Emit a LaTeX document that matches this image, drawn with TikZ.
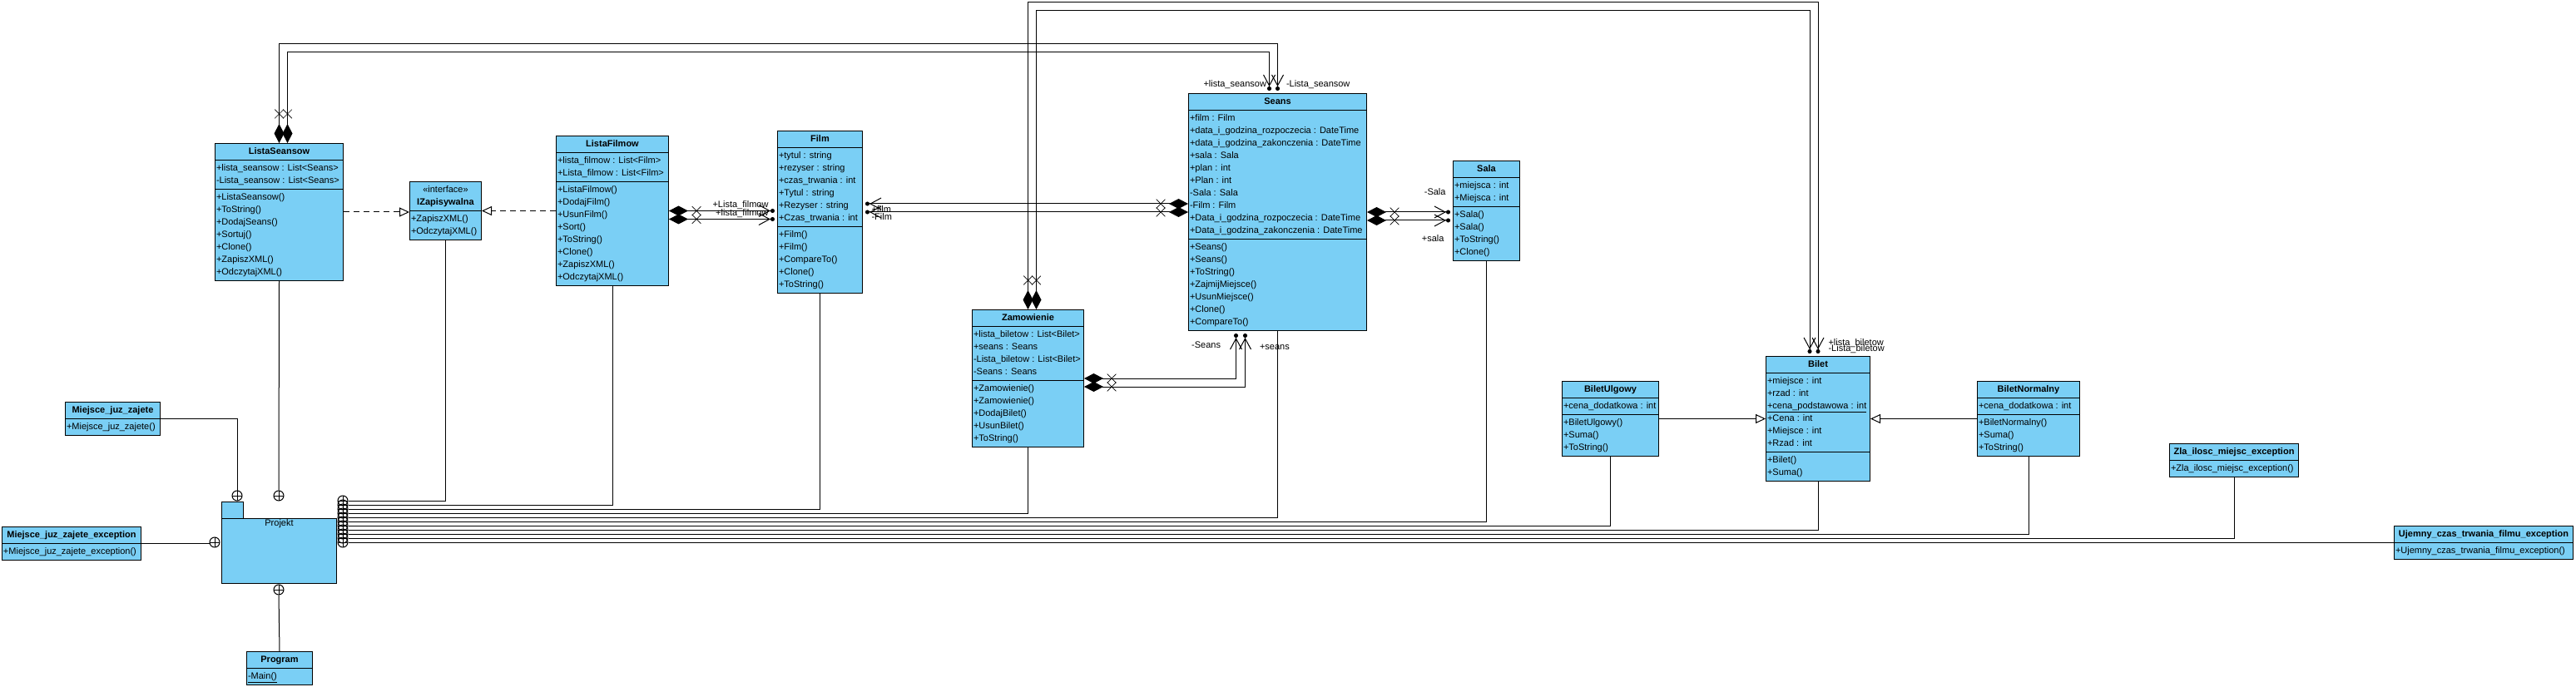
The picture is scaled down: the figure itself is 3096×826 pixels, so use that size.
\documentclass[tikz,border=0pt]{standalone}
\usepackage{fontspec}
\setmainfont{Liberation Sans}
\usetikzlibrary{calc,arrows.meta,shapes.multipart,shapes.misc}
\definecolor{umlblue}{RGB}{122,207,245}
\tikzset{
  umlclass/.style={rectangle split, rectangle split parts=3, draw, fill=umlblue,
    anchor=north west, inner xsep=1.5pt, inner ysep=2pt, align=left,
    rectangle split part align={center,left,left}},
  umlsmall/.style={umlclass, rectangle split parts=2,
    rectangle split part align={center,left}},
  pkg/.style={draw, fill=umlblue, anchor=north west},
  nest/.style={circle, draw, minimum size=12pt, inner sep=0pt,
    path picture={\draw (path picture bounding box.north) -- (path picture bounding box.south)
      (path picture bounding box.west) -- (path picture bounding box.east);}},
  xmark/.style={cross out, draw, minimum size=10pt, inner sep=0pt, line width=0.7pt},
  role/.style={inner sep=0pt},
  comp/.style={arrows={Diamond[length=23pt,width=12pt]-Straight Barb[length=13pt,width=14pt] Circle[length=5pt]}, shorten >=3pt},
  gen/.style={arrows={-Triangle[open,length=12pt,width=11pt]}},
  real/.style={gen, dash pattern=on 7pt off 5pt}
}
\begin{document}
\begin{tikzpicture}[x=1pt, y=-1pt, font=\fontsize{11}{15}\selectfont, line width=1pt]
  \useasboundingbox (0,0) rectangle (3096,826);
  % classes
  \node[umlclass, minimum width=154pt] (ls) at (258,172) {\strut\textbf{ListaSeansow}\nodepart{two}\strut+lista\_seansow : List<Seans>\\-Lista\_seansow : List<Seans>\strut\nodepart{three}\strut+ListaSeansow()\\+ToString()\\+DodajSeans()\\+Sortuj()\\+Clone()\\+ZapiszXML()\\+OdczytajXML()\strut};
  \node[umlsmall, minimum width=86pt] (iz) at (492,218) {\begin{tabular}{@{}c@{}}\textless\textless interface\textgreater\textgreater\\\textbf{IZapisywalna}\end{tabular}\nodepart{two}\strut+ZapiszXML()\\+OdczytajXML()\strut};
  \node[umlclass, minimum width=135pt] (lf) at (668,163) {\strut\textbf{ListaFilmow}\nodepart{two}\strut+lista\_filmow : List<Film>\\+Lista\_filmow : List<Film>\strut\nodepart{three}\strut+ListaFilmow()\\+DodajFilm()\\+UsunFilm()\\+Sort()\\+ToString()\\+Clone()\\+ZapiszXML()\\+OdczytajXML()\strut};
  \node[umlclass, minimum width=102pt] (film) at (934,157) {\strut\textbf{Film}\nodepart{two}\strut+tytul : string\\+rezyser : string\\+czas\_trwania : int\\+Tytul : string\\+Rezyser : string\\+Czas\_trwania : int\strut\nodepart{three}\strut+Film()\\+Film()\\+CompareTo()\\+Clone()\\+ToString()\strut};
  \node[umlclass, minimum width=214pt] (seans) at (1428,112) {\strut\textbf{Seans}\nodepart{two}\strut+film : Film\\+data\_i\_godzina\_rozpoczecia : DateTime\\+data\_i\_godzina\_zakonczenia : DateTime\\+sala : Sala\\+plan : int\\+Plan : int\\-Sala : Sala\\-Film : Film\\+Data\_i\_godzina\_rozpoczecia : DateTime\\+Data\_i\_godzina\_zakonczenia : DateTime\strut\nodepart{three}\strut+Seans()\\+Seans()\\+ToString()\\+ZajmijMiejsce()\\+UsunMiejsce()\\+Clone()\\+CompareTo()\strut};
  \node[umlclass, minimum width=80pt] (sala) at (1746,193) {\strut\textbf{Sala}\nodepart{two}\strut+miejsca : int\\+Miejsca : int\strut\nodepart{three}\strut+Sala()\\+Sala()\\+ToString()\\+Clone()\strut};
  \node[umlclass, minimum width=134pt] (zam) at (1168,372) {\strut\textbf{Zamowienie}\nodepart{two}\strut+lista\_biletow : List<Bilet>\\+seans : Seans\\-Lista\_biletow : List<Bilet>\\-Seans : Seans\strut\nodepart{three}\strut+Zamowienie()\\+Zamowienie()\\+DodajBilet()\\+UsunBilet()\\+ToString()\strut};
  \node[umlclass, minimum width=116pt] (bu) at (1877,458) {\strut\textbf{BiletUlgowy}\nodepart{two}\strut+cena\_dodatkowa : int\strut\nodepart{three}\strut+BiletUlgowy()\\+Suma()\\+ToString()\strut};
  \node[umlclass, minimum width=125pt] (bilet) at (2122,428) {\strut\textbf{Bilet}\nodepart{two}\strut+miejsce : int\\+rzad : int\\\underline{+cena\_podstawowa : int}\\+Cena : int\\+Miejsce : int\\+Rzad : int\strut\nodepart{three}\strut+Bilet()\\+Suma()\strut};
  \node[umlclass, minimum width=123pt] (bn) at (2376,458) {\strut\textbf{BiletNormalny}\nodepart{two}\strut+cena\_dodatkowa : int\strut\nodepart{three}\strut+BiletNormalny()\\+Suma()\\+ToString()\strut};
  \node[umlsmall, minimum width=155pt] (zla) at (2607,533) {\strut\textbf{Zla\_ilosc\_miejsc\_exception}\nodepart{two}\strut+Zla\_ilosc\_miejsc\_exception()};
  \node[umlsmall, minimum width=215pt] (uj) at (2877,632) {\strut\textbf{Ujemny\_czas\_trwania\_filmu\_exception}\nodepart{two}\strut+Ujemny\_czas\_trwania\_filmu\_exception()};
  \node[umlsmall, minimum width=114pt] (mjz) at (78,483) {\strut\textbf{Miejsce\_juz\_zajete}\nodepart{two}\strut+Miejsce\_juz\_zajete()};
  \node[umlsmall, minimum width=167pt] (mjze) at (2,633) {\strut\textbf{Miejsce\_juz\_zajete\_exception}\nodepart{two}\strut+Miejsce\_juz\_zajete\_exception()};
  \node[umlsmall, minimum width=79pt] (prog) at (296,783) {\strut\textbf{Program}\nodepart{two}\strut\underline{-Main()}};
  % package
  \node[pkg, minimum width=138pt, minimum height=78pt] (projekt) at (266,623) {};
  \draw[fill=umlblue] (projekt.north west) rectangle ++(26,-20);
  \node[anchor=north, inner sep=1pt] (projekt-name) at (projekt.north) {Projekt};
  % realizations
  \draw[real] (ls.east) -- (ls.east -| iz.west);
  \draw[real] (lf.west) -- (lf.west -| iz.east);
  % ListaFilmow - Film
  \coordinate (lf-e2) at ($(lf.east)+(0,10)$);
  \draw[comp] (lf.east) -- (lf.east -| film.west);
  \draw[comp] (lf-e2) -- (lf-e2 -| film.west);
  \node[xmark] (lf-x1) at ($(lf.east)+(33,0)$) {};
  \node[xmark] (lf-x2) at ($(lf-e2)+(33,0)$) {};
  \node[role, anchor=east] (r-lf1) at ($(film.west)+(-10,-8)$) {+Lista\_filmow};
  \node[role, anchor=east] (r-lf2) at ($(film.west)+(-10,2)$) {+lista\_filmow};
  % Seans - Film
  \coordinate (se-w2) at ($(seans.west)+(0,-10)$);
  \draw[comp] (seans.west) -- (seans.west -| film.east);
  \draw[comp] (se-w2) -- (se-w2 -| film.east);
  \node[xmark] (se-x1) at ($(seans.west)+(-33,0)$) {};
  \node[xmark] (se-x2) at ($(se-w2)+(-33,0)$) {};
  \node[role, anchor=west] (r-f1) at ($(film.east)+(10,-3)$) {+film};
  \node[role, anchor=west] (r-f2) at ($(film.east)+(10,6)$) {-Film};
  % Seans - Sala
  \coordinate (se-e2) at ($(seans.east)+(0,10)$);
  \draw[comp] (seans.east) -- (seans.east -| sala.west);
  \draw[comp] (se-e2) -- (se-e2 -| sala.west);
  \node[xmark] (se-x3) at ($(seans.east)+(33,0)$) {};
  \node[xmark] (se-x4) at ($(se-e2)+(33,0)$) {};
  \node[role, anchor=east] (r-s1) at ($(sala.west)+(-8,-23)$) {-Sala};
  \node[role, anchor=east] (r-s2) at ($(sala.west)+(-10,33)$) {+sala};
  % ListaSeansow - Seans
  \coordinate (ls-n2) at ($(ls.north)+(10,0)$);
  \coordinate (se-n2) at ($(seans.north)+(-10,0)$);
  \draw[comp] (ls.north) -- ++(0,-119) -| (seans.north);
  \draw[comp] (ls-n2) -- ++(0,-109) -| (se-n2);
  \node[xmark] (ls-x1) at ($(ls.north)+(0,-35)$) {};
  \node[xmark] (ls-x2) at ($(ls-n2)+(0,-35)$) {};
  \node[role, anchor=east] (r-ls1) at ($(seans.north)+(-13,-10)$) {+lista\_seansow};
  \node[role, anchor=west] (r-ls2) at ($(seans.north)+(10,-10)$) {-Lista\_seansow};
  % Zamowienie - Bilet
  \coordinate (za-n2) at ($(zam.north)+(10,0)$);
  \coordinate (bi-n2) at ($(bilet.north)+(-10,0)$);
  \draw[comp] (zam.north) -- ++(0,-369) -| (bilet.north);
  \draw[comp] (za-n2) -- ++(0,-359) -| (bi-n2);
  \node[xmark] (za-x1) at ($(zam.north)+(0,-35)$) {};
  \node[xmark] (za-x2) at ($(za-n2)+(0,-35)$) {};
  \node[role, anchor=west] (r-b1) at ($(bilet.north)+(12,-15)$) {+lista\_biletow};
  \node[role, anchor=west] (r-b2) at ($(bilet.north)+(12,-8)$) {-Lista\_biletow};
  % Zamowienie - Seans
  \coordinate (za-e2) at ($(zam.east)+(0,10)$);
  \coordinate (se-s1) at ($(seans.south)+(-50,0)$);
  \coordinate (se-s2) at ($(seans.south)+(-39,0)$);
  \draw[comp] (zam.east) -| (se-s1);
  \draw[comp] (za-e2) -| (se-s2);
  \node[xmark] (za-x3) at ($(zam.east)+(33,0)$) {};
  \node[xmark] (za-x4) at ($(za-e2)+(33,0)$) {};
  \node[role, anchor=east] (r-z1) at ($(seans.south)+(-68,17)$) {-Seans};
  \node[role, anchor=west] (r-z2) at ($(seans.south)+(-22,19)$) {+seans};
  % generalizations
  \draw[gen] (bu.east) -- (bu.east -| bilet.west);
  \draw[gen] (bn.west) -- (bn.west -| bilet.east);
  % package nesting
  \foreach \i in {1,...,11}
    \node[nest] (n\i) at (412,{597+5*\i}) {};
  \foreach \c [count=\i] in {iz,lf,film,zam,seans,sala,bu,bilet,bn,zla}
    \draw (\c.south) |- (n\i.east);
  \draw (n11.east) -- (n11.east -| uj.west);
  \node[nest] (nt1) at (285,596) {};
  \node[nest] (nt2) at (335,596) {};
  \node[nest] (nl) at (258,652) {};
  \node[nest] (nb) at (335,709) {};
  \draw (mjz.east) -| (nt1.north);
  \draw (ls.south) -- (nt2.north);
  \draw (mjze.east) -- (mjze.east -| nl.west);
  \draw (nb.south) -- (prog.north);
\end{tikzpicture}
\end{document}
